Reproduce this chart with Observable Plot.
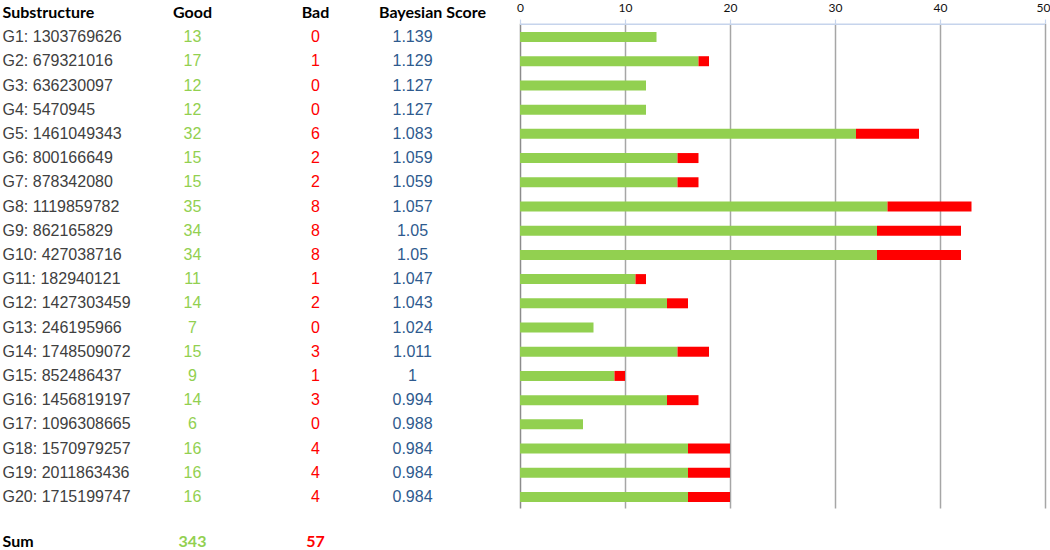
<!DOCTYPE html>
<html>
<head>
<meta charset="utf-8">
<script src="https://cdn.jsdelivr.net/npm/d3@7"></script>
<script src="https://cdn.jsdelivr.net/npm/@observablehq/plot@0.6"></script>
<style>
  html, body { margin: 0; padding: 0; background: #fff; }
  #chart { width: 1050px; height: 550px; overflow: hidden; }
</style>
</head>
<body>
<div id="chart"></div>
<script>
const names = ["G1: 1303769626","G2: 679321016","G3: 636230097","G4: 5470945","G5: 1461049343","G6: 800166649","G7: 878342080","G8: 1119859782","G9: 862165829","G10: 427038716","G11: 182940121","G12: 1427303459","G13: 246195966","G14: 1748509072","G15: 852486437","G16: 1456819197","G17: 1096308665","G18: 1570979257","G19: 2011863436","G20: 1715199747"];
const good = [13,17,12,12,32,15,15,35,34,34,11,14,7,15,9,14,6,16,16,16];
const bad = [0,1,0,0,6,2,2,8,8,8,1,2,0,3,1,3,0,4,4,4];
const score = ["1.139","1.129","1.127","1.127","1.083","1.059","1.059","1.057","1.05","1.05","1.047","1.043","1.024","1.011","1","0.994","0.988","0.984","0.984","0.984"];
const headers = ["Substructure","Good","Bad","Bayesian Score"];
const xTicks = [0,10,20,30,40,50];

const GREEN = "#92D050", RED = "#FF0000", BLUE = "#2E5A8E", GREY = "#404040";
const HEAD_FONT = "Lato, 'Liberation Sans', sans-serif";
const BODY_FONT = "'Liberation Sans', Arial, sans-serif";

const rows = names.map((n, i) => ({i, name: n, good: good[i], bad: bad[i], score: score[i]}));
const HEADER_ROW = -1, SUM_ROW = 21;
const sumGood = d3.sum(good), sumBad = d3.sum(bad);

const colX = {name: 2, good: 192, bad: 315, score: 412, scoreHead: 432};

const txt = (data, opts) => Plot.text(data, {frameAnchor: "left", ...opts});

const chart = Plot.plot({
  width: 1050,
  height: 550,
  margin: 0,
  x: {domain: [0, 50], range: [520, 1045], axis: null},
  y: {domain: [-1, 21], range: [12.3, 544.9], axis: null},
  marks: [
    // gridlines
    Plot.ruleX(xTicks.filter(d => d > 0), {x: d => d, y1: -0.53, y2: 19.5, stroke: "#A6A6A6", strokeWidth: 1.5}),
    Plot.ruleX([0], {x: d => d, y1: -0.53, y2: 19.5, stroke: "#8C8C8C", strokeWidth: 1.5}),
    // top axis line and small ticks
    Plot.ruleY([-0.53], {y: d => d, x1: 0, x2: 50, stroke: "#C6D4EC", strokeWidth: 1.5}),
    Plot.ruleX(xTicks, {x: d => d, y1: -0.53, y2: -0.7, stroke: "#C6D4EC", strokeWidth: 1.2}),
    Plot.text(xTicks.filter(d => d < 50), {x: d => d, y: HEADER_ROW, dy: -5, text: d => String(d), fontSize: 12, fontFamily: HEAD_FONT, fill: "#111"}),
    Plot.text(xTicks.filter(d => d === 50), {x: d => d, y: HEADER_ROW, dy: -5, dx: 5, textAnchor: "end", text: d => String(d), fontSize: 12, fontFamily: HEAD_FONT, fill: "#111"}),
    // bars
    Plot.ruleY(rows, {y: "i", x1: 0, x2: "good", stroke: GREEN, strokeWidth: 10}),
    Plot.ruleY(rows.filter(d => d.bad > 0), {y: "i", x1: "good", x2: d => d.good + d.bad, stroke: RED, strokeWidth: 10}),
    // headers
    txt([headers[0]], {y: () => HEADER_ROW, dx: colX.name, text: d => d, textAnchor: "start", fontWeight: "bold", fontSize: 16, fontFamily: HEAD_FONT, fill: "#000"}),
    txt([headers[1]], {y: () => HEADER_ROW, dx: colX.good, text: d => d, textAnchor: "middle", fontWeight: "bold", fontSize: 16, fontFamily: HEAD_FONT, fill: "#000"}),
    txt([headers[2]], {y: () => HEADER_ROW, dx: colX.bad, text: d => d, textAnchor: "middle", fontWeight: "bold", fontSize: 16, fontFamily: HEAD_FONT, fill: "#000"}),
    txt([headers[3]], {y: () => HEADER_ROW, dx: colX.scoreHead, text: d => d, textAnchor: "middle", fontWeight: "bold", fontSize: 16, fontFamily: HEAD_FONT, fill: "#000"}),
    // table body
    txt(rows, {y: "i", dx: colX.name, text: "name", textAnchor: "start", fontSize: 16, fontFamily: BODY_FONT, fill: GREY}),
    txt(rows, {y: "i", dx: colX.good, text: d => String(d.good), textAnchor: "middle", fontSize: 16, fontFamily: BODY_FONT, fill: GREEN}),
    txt(rows, {y: "i", dx: colX.bad, text: d => String(d.bad), textAnchor: "middle", fontSize: 16, fontFamily: BODY_FONT, fill: RED}),
    txt(rows, {y: "i", dx: colX.score, text: "score", textAnchor: "middle", fontSize: 16, fontFamily: BODY_FONT, fill: BLUE}),
    // sum row
    txt(["Sum"], {y: () => SUM_ROW, dy: -4, dx: colX.name, text: d => d, textAnchor: "start", fontWeight: "bold", fontSize: 16, fontFamily: HEAD_FONT, fill: "#000"}),
    txt([sumGood], {y: () => SUM_ROW, dy: -4, dx: colX.good, text: d => String(d), textAnchor: "middle", fontWeight: "bold", fontSize: 16, fontFamily: HEAD_FONT, fill: GREEN}),
    txt([sumBad], {y: () => SUM_ROW, dy: -4, dx: colX.bad, text: d => String(d), textAnchor: "middle", fontWeight: "bold", fontSize: 16, fontFamily: HEAD_FONT, fill: RED})
  ]
});
document.getElementById("chart").appendChild(chart);
</script>
</body>
</html>
